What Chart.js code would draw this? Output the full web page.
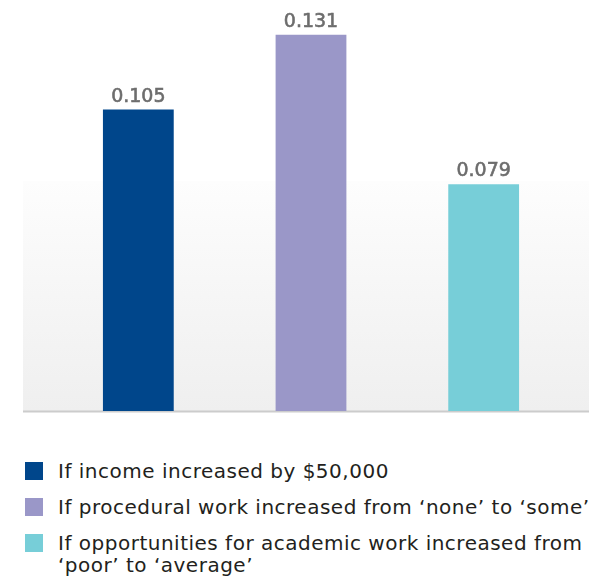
<!DOCTYPE html>
<html>
<head>
<meta charset="utf-8">
<script src="https://cdn.jsdelivr.net/npm/chart.js@4"></script>
<style>
  html, body { margin: 0; padding: 0; background: #fff; }
  body { width: 589px; height: 578px; overflow: hidden; position: relative; }
  .graph { position: absolute; left: 0; top: 0; width: 589px; height: 430px; }
  .legend { position: absolute; left: 25px; top: 460px; width: 564px; overflow: hidden;
            font-family: "DejaVu Sans", sans-serif; font-size: 20px; letter-spacing: 0.5px; color: #231f20; }
  .legend_item { position: relative; padding-left: 33px; white-space: nowrap; line-height: 22px; margin-bottom: 14px; }
  .legend_item span.box { position: absolute; left: 0; top: 2px; width: 18px; height: 18px; }
</style>
</head>
<body>
<div class="graph"><canvas id="effectChart"></canvas></div>
<div class="legend" id="legend"></div>
<script>
let categories = [
    ['If income increased by $50,000'],
    ['If procedural work increased from \u2018none\u2019 to \u2018some\u2019'],
    ['If opportunities for academic work increased from', '\u2018poor\u2019 to \u2018average\u2019'],
];
let values = [0.105, 0.131, 0.079];
let valueLabels = ['0.105', '0.131', '0.079'];
let barColors = ['#00468b', '#9a97c8', '#77ced8'];

let chart; // the bar chart

// grey gradient panel behind the bars plus the base line
const panelPlugin = {
    id: 'panel',
    beforeDraw(c) {
        const ctx = c.ctx;
        const y0 = c.scales.y.getPixelForValue(0);
        const top = 181;
        const grad = ctx.createLinearGradient(0, top, 0, y0);
        grad.addColorStop(0, '#fdfdfd');
        grad.addColorStop(1, '#efefef');
        ctx.save();
        ctx.fillStyle = grad;
        ctx.fillRect(23, top, c.width - 23, y0 - top);
        ctx.fillStyle = '#cccccc';
        ctx.fillRect(23, y0 - 0.5, c.width - 23, 2);
        ctx.restore();
    }
};

// value text above each bar
const valuePlugin = {
    id: 'values',
    afterDatasetsDraw(c) {
        const ctx = c.ctx;
        const meta = c.getDatasetMeta(0);
        ctx.save();
        ctx.font = '19px "DejaVu Sans", sans-serif';
        ctx.fillStyle = '#6d6d6d';
        ctx.strokeStyle = '#6d6d6d';
        ctx.lineWidth = 0.6;
        ctx.textAlign = 'center';
        ctx.textBaseline = 'alphabetic';
        meta.data.forEach((bar, i) => {
            ctx.fillText(valueLabels[i], bar.x, bar.y - 8);
            ctx.strokeText(valueLabels[i], bar.x, bar.y - 8);
        });
        ctx.restore();
    }
};

document.addEventListener("DOMContentLoaded", function () {
    const ctx = document.getElementById("effectChart").getContext("2d");
    chart = new Chart(ctx, {
        type: 'bar',
        data: {
            labels: categories.map(c => c.join(' ')),
            datasets: [{
                data: values,
                backgroundColor: barColors,
                borderWidth: 0,
                categoryPercentage: 1,
                barPercentage: 0.41
            }]
        },
        options: {
            responsive: true,
            maintainAspectRatio: false,
            animation: false,
            layout: { padding: { left: 52, right: 19, top: 9, bottom: 19 } },
            plugins: { legend: { display: false }, tooltip: { enabled: false } },
            scales: {
                x: { display: false },
                y: { display: false, min: 0, max: 0.14 }
            }
        },
        plugins: [panelPlugin, valuePlugin]
    });

    // legend rows underneath the chart
    let legend = document.getElementById("legend");
    legend.innerHTML = categories.map((lines, i) =>
        `<div class="legend_item"><span class="box" style="background:${barColors[i]}"></span>${lines.join('<br>')}</div>`
    ).join('');
});
</script>
</body>
</html>
